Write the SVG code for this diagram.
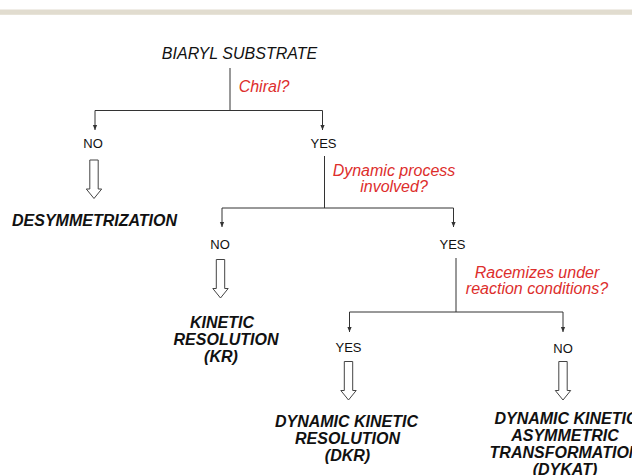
<svg xmlns="http://www.w3.org/2000/svg" width="632" height="475" viewBox="0 0 632 475">
<style>
.t{font-family:"Liberation Sans",Arial,sans-serif;fill:#111;}
.q{font-family:"Liberation Sans",Arial,sans-serif;font-style:italic;font-size:16px;fill:#dd2e2c;text-anchor:middle;}
.lab{font-size:13px;text-anchor:middle;}
.res{font-size:16px;font-weight:bold;font-style:italic;text-anchor:middle;}
.ln{fill:none;stroke:#333;stroke-width:1;}
.ha{fill:#fff;stroke:#444;stroke-width:1;}
</style>
<defs>
<marker id="ah" viewBox="0 0 8 8" refX="7" refY="4" markerWidth="6" markerHeight="6" orient="auto" markerUnits="userSpaceOnUse">
<path d="M0,1 L7,4 L0,7 Z" fill="#333"/>
</marker>
<path id="hollow" class="ha" d="M-4.2,0 H4.2 V29 H7.7 L0,38.5 L-7.7,29 H-4.2 Z"/>
</defs>
<rect x="0" y="9.5" width="632" height="5.3" fill="#e1dccf"/>

<g id="connectors">
<path class="ln" d="M230,68 V110.5"/>
<path class="ln" d="M95,110.5 H322.5"/>
<path class="ln" d="M95,110.5 V130" marker-end="url(#ah)"/>
<path class="ln" d="M322.5,110.5 V130" marker-end="url(#ah)"/>
<path class="ln" d="M324.5,156 V208"/>
<path class="ln" d="M222,208 H453.5"/>
<path class="ln" d="M222,208 V227" marker-end="url(#ah)"/>
<path class="ln" d="M453.5,208 V227" marker-end="url(#ah)"/>
<path class="ln" d="M456,258 V312"/>
<path class="ln" d="M349.5,312 H563"/>
<path class="ln" d="M349.5,312 V332" marker-end="url(#ah)"/>
<path class="ln" d="M563,312 V332" marker-end="url(#ah)"/>
<use href="#hollow" x="94" y="160"/>
<use href="#hollow" x="220.5" y="259.5"/>
<use href="#hollow" x="348.5" y="361.5"/>
<use href="#hollow" x="563" y="361.5"/>
<text class="q" x="264" y="92">Chiral?</text>
<text class="q" x="394" y="176">Dynamic process</text>
<text class="q" x="394" y="191.5">involved?</text>
<text class="q" x="537" y="278">Racemizes under</text>
<text class="q" x="537" y="293.5">reaction conditions?</text>
</g>

<g id="root"><text class="t" x="239.5" y="59" font-size="16" font-style="italic" text-anchor="middle">BIARYL SUBSTRATE</text></g>
<g id="no1"><text class="t lab" x="93" y="148">NO</text></g>
<g id="yes1"><text class="t lab" x="323.5" y="148">YES</text></g>
<g id="desym"><text class="t res" x="94.5" y="226">DESYMMETRIZATION</text></g>
<g id="no2"><text class="t lab" x="220" y="249">NO</text></g>
<g id="yes2"><text class="t lab" x="452.5" y="249">YES</text></g>
<g id="kr"><text class="t res" x="222" y="328">KINETIC</text><text class="t res" x="226" y="345">RESOLUTION</text><text class="t res" x="221" y="362">(KR)</text></g>
<g id="yes3"><text class="t lab" x="348.5" y="352">YES</text></g>
<g id="no3"><text class="t lab" x="563" y="353">NO</text></g>
<g id="dkr"><text class="t res" x="346.5" y="426.5">DYNAMIC KINETIC</text><text class="t res" x="347.5" y="443.5">RESOLUTION</text><text class="t res" x="347.5" y="460.5">(DKR)</text></g>
<g id="dykat"><text class="t res" x="566" y="424">DYNAMIC KINETIC</text><text class="t res" x="565" y="441">ASYMMETRIC</text><text class="t res" x="565" y="458">TRANSFORMATION</text><text class="t res" x="565" y="475">(DYKAT)</text></g>
</svg>
